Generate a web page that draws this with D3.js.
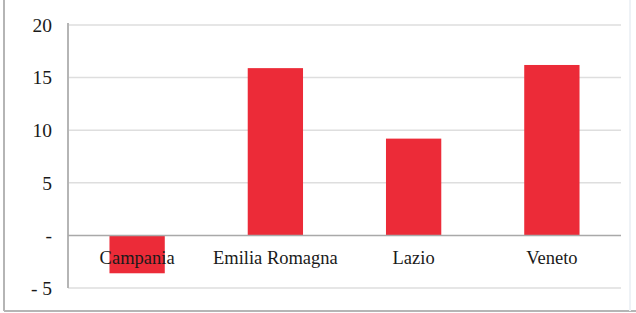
<!DOCTYPE html>
<html lang="en">
<head>
<meta charset="utf-8">
<style>
body { margin: 0; background: #fff; }
.grid line { stroke: #dedede; stroke-width: 1.5; }
.zero { stroke: #a9a9a9; stroke-width: 1.5; }
.bar { fill: #ec2b38; }
text { font-family: "Liberation Serif", "DejaVu Serif", serif; fill: #1a1a1a; }
</style>
</head>
<body>
<svg width="636" height="313"></svg>
<script src="https://d3js.org/d3.v7.min.js"></script>
<script>

var categories = ["Campania", "Emilia Romagna", "Lazio", "Veneto"];
var values = [-3.6, 15.9, 9.2, 16.2];
var yTicks = [20, 15, 10, 5, 0, -5];
var yTickLabels = ["20", "15", "10", "5", "-", "- 5"];

var svg = d3.select("svg"),
    margin = {top: 25, right: 15, bottom: 25, left: 68},
    width = +svg.attr("width") - margin.left - margin.right,
    height = +svg.attr("height") - margin.top - margin.bottom;

// chart frame
svg.append("line").attr("x1", 4).attr("x2", 4).attr("y1", 0).attr("y2", 311)
    .attr("stroke", "#b5b5b5").attr("stroke-width", 2);
svg.append("line").attr("x1", 4).attr("x2", 636).attr("y1", 311).attr("y2", 311)
    .attr("stroke", "#b5b5b5").attr("stroke-width", 2);
svg.append("line").attr("x1", 630).attr("x2", 630).attr("y1", 0).attr("y2", 311)
    .attr("stroke", "#eef2f6").attr("stroke-width", 2);

var x = d3.scaleBand().domain(categories).range([0, width]).paddingInner(0.6).paddingOuter(0.3),
    y = d3.scaleLinear().domain([-5, 20]).range([263, 0]);

var g = svg.append("g")
    .attr("transform", "translate(" + margin.left + "," + margin.top + ")");

g.append("g")
    .attr("class", "grid")
  .selectAll("line")
  .data(yTicks.filter(function(d) { return d !== 0; }))
  .enter().append("line")
    .attr("x1", 0)
    .attr("x2", width)
    .attr("y1", function(d) { return y(d); })
    .attr("y2", function(d) { return y(d); });

g.append("line")
    .attr("stroke", "#b5b5b5").attr("stroke-width", 2)
    .attr("x1", 0).attr("x2", 0)
    .attr("y1", y(20) - 2).attr("y2", y(-5));

g.selectAll(".ylab")
  .data(yTicks)
  .enter().append("text")
    .attr("class", "ylab")
    .attr("x", -16)
    .attr("y", function(d) { return y(d); })
    .attr("dy", "0.35em")
    .attr("text-anchor", "end")
    .style("font-size", "19.5px")
    .text(function(d, i) { return yTickLabels[i]; });

g.selectAll(".bar")
  .data(values)
  .enter().append("rect")
    .attr("class", "bar")
    .attr("x", function(d, i) { return x(categories[i]); })
    .attr("y", function(d) { return y(Math.max(0, d)); })
    .attr("width", x.bandwidth())
    .attr("height", function(d) { return Math.abs(y(d) - y(0)); });

g.append("line")
    .attr("class", "zero")
    .attr("x1", 0).attr("x2", width)
    .attr("y1", y(0)).attr("y2", y(0));

g.selectAll(".xlab")
  .data(categories)
  .enter().append("text")
    .attr("class", "xlab")
    .attr("x", function(d) { return x(d) + x.bandwidth() / 2; })
    .attr("y", y(0) + 29)
    .attr("text-anchor", "middle")
    .style("font-size", "18.5px")
    .text(function(d) { return d; });

</script>
</body>
</html>
